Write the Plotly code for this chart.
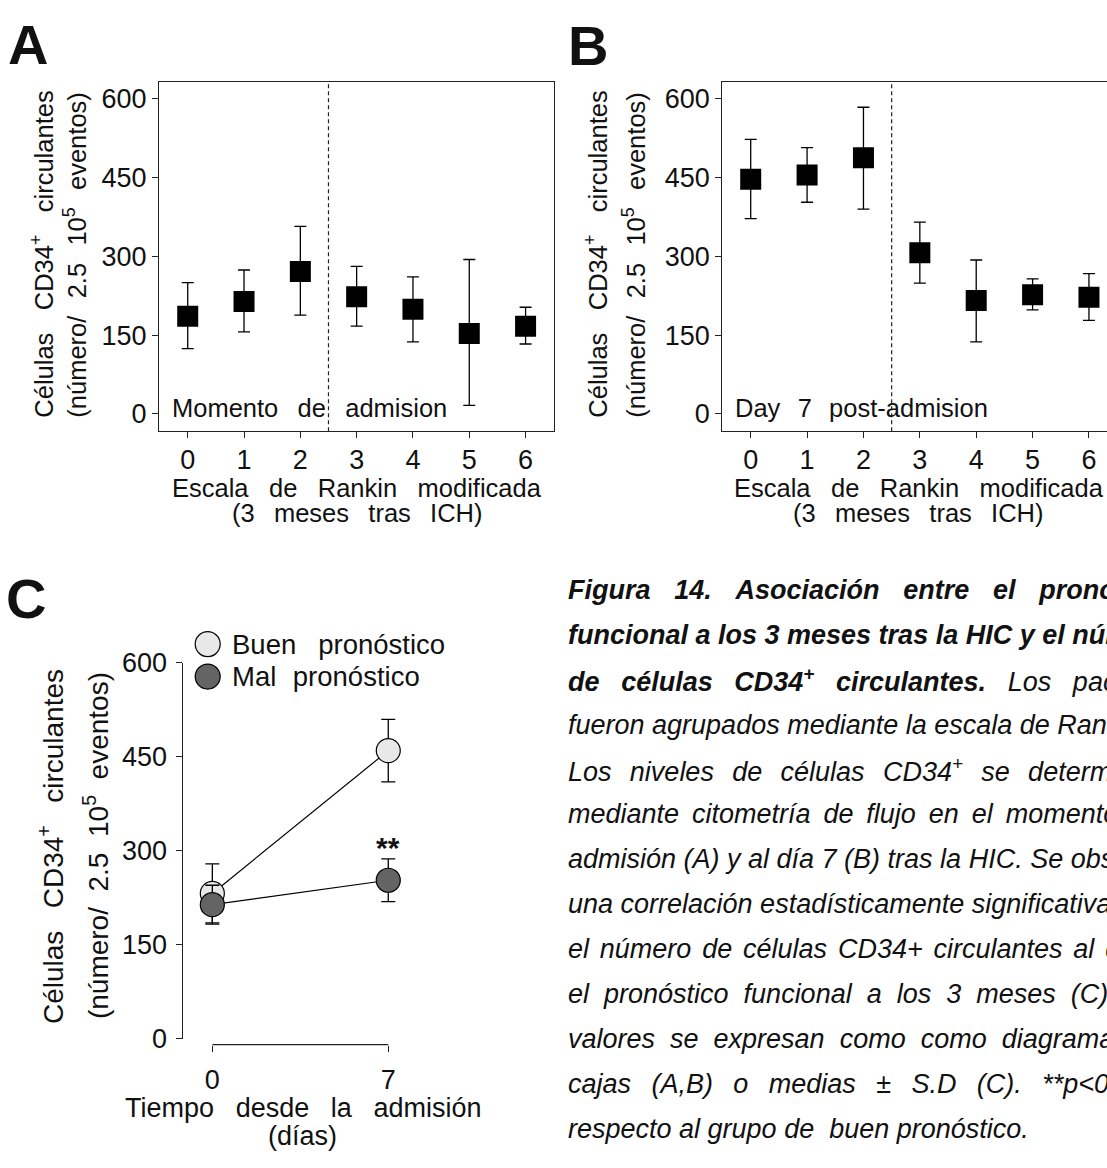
import plotly.graph_objects as go

# ---- data -------------------------------------------------------------
rankin = [0, 1, 2, 3, 4, 5, 6]
y_ticks = [0, 150, 300, 450, 600]

# Panel A: admission
a_center = [186, 214, 271, 223, 199, 153, 167]
a_upper = [250, 274, 357, 281, 261, 294, 203]
a_lower = [124, 156, 188, 167, 137, 16, 133]

# Panel B: day 7
b_center = [447, 455, 488, 307, 216, 227, 222]
b_upper = [523, 507, 584, 365, 293, 257, 267]
b_lower = [372, 403, 390, 249, 137, 198, 178]

# Panel C: mean +/- SD by outcome
days = [0, 7]
good_mean = [232, 460]
good_sd = [47, 50]
poor_mean = [214, 253]
poor_sd = [31, 34]

W, H = 1107, 1168
FONT = "Liberation Sans, Arial, sans-serif"
INK = "#111111"
LINE = "#222222"


def P(x):
    return x / W


def Q(y):
    return 1 - y / H


def gap(px, size):
    """Run of non-breaking / thin spaces approximating a word gap in px."""
    best = None
    for a in range(0, 8):
        for b in range(0, 6):
            if a + b == 0:
                continue
            w = a * 0.278 * size + b * 0.2 * size
            err = abs(w - px)
            if best is None or err < best[0] - 0.05:
                best = (err, a, b)
    return "\u00a0" * best[1] + "\u2009" * best[2]


def spaced(words, px, size):
    return gap(px, size).join(words)


fig = go.Figure()

# ---- panels A and B: squares with whiskers -----------------------------
for xa, ya, c, up, lo in [("x", "y", a_center, a_upper, a_lower),
                          ("x2", "y2", b_center, b_upper, b_lower)]:
    fig.add_trace(go.Scatter(
        x=rankin, y=c, mode="markers", xaxis=xa, yaxis=ya,
        marker=dict(symbol="square", size=21, color="black", line=dict(width=0)),
        error_y=dict(type="data", symmetric=False,
                     array=[u - v for u, v in zip(up, c)],
                     arrayminus=[v - l for v, l in zip(c, lo)],
                     color="black", thickness=1.3, width=6),
        hoverinfo="skip", showlegend=False))

# ---- panel C: two outcome groups --------------------------------------
for mean, sd, fill in [(good_mean, good_sd, "#e8e8e8"),
                       (poor_mean, poor_sd, "#646464")]:
    fig.add_trace(go.Scatter(
        x=days, y=mean, mode="lines+markers", xaxis="x3", yaxis="y3",
        line=dict(color="black", width=1.2),
        marker=dict(symbol="circle", size=24, color=fill,
                    line=dict(color="black", width=1.2)),
        error_y=dict(type="data", array=sd, color="black", thickness=1.3, width=7),
        hoverinfo="skip", showlegend=False))

axis_common = dict(ticks="outside", ticklen=6, tickwidth=1.3, tickcolor=LINE,
                   showgrid=False, zeroline=False,
                   tickfont=dict(size=27, color=INK, family=FONT),
                   showline=True, linecolor=LINE, linewidth=1.3)

box_y = [Q(427.3), Q(68.3)]
fig.update_layout(
    xaxis=dict(domain=[P(159), P(554.3)], range=[-0.51, 6.51], tickvals=rankin,
               mirror=True, anchor="y", ticklabelstandoff=-2, **axis_common),
    yaxis=dict(domain=box_y, range=[-33.4, 633], tickvals=y_ticks,
               mirror=True, anchor="x", **axis_common),
    xaxis2=dict(domain=[P(722.3), 1], range=[-0.504, 6.32], tickvals=rankin,
                mirror=True, anchor="y2", ticklabelstandoff=-2, **axis_common),
    yaxis2=dict(domain=box_y, range=[-33.4, 633], tickvals=y_ticks,
                mirror=False, anchor="x2", **axis_common),
    xaxis3=dict(domain=[P(187.2), P(413.4)], range=[-1, 8], tickvals=days,
                anchor="free", position=Q(1056.7), ticklabelstandoff=5,
                **{**axis_common, "showline": False}),
    yaxis3=dict(domain=[Q(1050.7), Q(665)], range=[0, 600], tickvals=y_ticks,
                anchor="free", position=P(181.7), ticklabelstandoff=3,
                **axis_common),
)

shapes = []
# dashed separators between mRS 0-2 and 3-6
for xr, yr in [("x", "y domain"), ("x2", "y2 domain")]:
    shapes.append(dict(type="line", xref=xr, yref=yr, x0=2.5, x1=2.5, y0=0, y1=1,
                       line=dict(color=LINE, width=1.2, dash="4px,3px")))
# panel C x-axis line spanning day 0 to day 7
shapes.append(dict(type="line", xref="x3", yref="paper", x0=days[0], x1=days[-1],
                   y0=Q(1056.7), y1=Q(1056.7), line=dict(color=LINE, width=1.3)))
# legend symbols for panel C
for yy, fill in [(645.7, "#e8e8e8"), (679, "#646464")]:
    shapes.append(dict(type="circle", xref="paper", yref="paper",
                       xsizemode="pixel", ysizemode="pixel",
                       xanchor=P(207.7), yanchor=Q(yy),
                       x0=-12.5, x1=12.5, y0=-12.5, y1=12.5,
                       fillcolor=fill, line=dict(color="black", width=1.2)))

ann = []


def text(x, y, s, size, xanchor="center", yanchor="middle", angle=0, color=INK):
    ann.append(dict(xref="paper", yref="paper", x=P(x), y=Q(y), text=s,
                    showarrow=False, xanchor=xanchor, yanchor=yanchor,
                    textangle=angle, font=dict(family=FONT, size=size, color=color)))


S = 25.5
# panel letters
text(28, 30, "<b>A</b>", 56)
text(587.5, 31, "<b>B</b>", 56)
text(26, 599, "<b>C</b>", 56)

ytitle1 = spaced(["Células", "CD34<sup>+</sup>", "circulantes"], 23, S)
ytitle2 = spaced(["(número/", "2.5", "10<sup>5</sup>", "eventos)"], 17, S)
xtitle1 = spaced(["Escala", "de", "Rankin", "modificada"], 20, S)
xtitle2 = spaced(["(3", "meses", "tras", "ICH)"], 19, S)

# panel A labels
text(42, 246, ytitle1, S, angle=-90)
text(75, 246, ytitle2, S, angle=-90)
text(170, 403, spaced(["Momento", "de", "admision"], 19, S), S, xanchor="left")
text(357, 485, xtitle1, S)
text(357, 511, xtitle2, S)

# panel B labels
text(596, 246, ytitle1, S, angle=-90)
text(634, 246, ytitle2, S, angle=-90)
text(733, 403, spaced(["Day", "7", "post-admision"], 17, S), S, xanchor="left")
text(918.5, 485, xtitle1, S)
text(918.5, 511, xtitle2, S)

# panel C labels
SC = 28
text(51, 854, spaced(["Células", "CD34<sup>+</sup>", "circulantes"], 22, SC), SC, angle=-90)
text(96, 853, spaced(["(número/", "2.5", "10<sup>5</sup>", "eventos)"], 16, SC), SC, angle=-90)
text(230, 645.7, spaced(["Buen", "pronóstico"], 22, 27.5), 27.5, xanchor="left")
text(230, 679, spaced(["Mal", "pronóstico"], 17, 27.5), 27.5, xanchor="left")
text(303, 1122, spaced(["Tiempo", "desde", "la", "admisión"], 21, 27), 27)
text(302.5, 1151, "(días)", 27)
ann.append(dict(xref="x3", yref="y3", x=7, y=305, text="<b>**</b>", showarrow=False,
                xanchor="center", yanchor="middle",
                font=dict(family=FONT, size=30, color=INK)))

# ---- figure caption (justified block, runs off the right edge) --------
CS = 27
X0 = 566
g = lambda px: gap(px, CS)
cap = [
    "<b>" + g(24).join(["Figura", "14.", "Asociación", "entre", "el", "pronóstico"]) + "</b>",
    "<b>" + g(7).join(["funcional", "a", "los", "3", "meses", "tras", "la", "HIC", "y", "el", "número"]) + "</b>",
    "<b>" + g(22).join(["de", "células", "CD34<sup>+</sup>", "circulantes."]) + "</b>"
    + g(22) + g(22).join(["Los", "pacientes"]),
    g(7).join(["fueron", "agrupados", "mediante", "la", "escala", "de", "Rankin."]),
    g(18).join(["Los", "niveles", "de", "células", "CD34<sup>+</sup>", "se", "determinaron"]),
    g(12).join(["mediante", "citometría", "de", "flujo", "en", "el", "momento", "de", "la"]),
    g(7).join(["admisión", "(A)", "y", "al", "día", "7", "(B)", "tras", "la", "HIC.", "Se", "observó"]),
    g(7).join(["una", "correlación", "estadísticamente", "significativa", "entre"]),
    g(9.5).join(["el", "número", "de", "células", "CD34+", "circulantes", "al", "día", "7", "y"]),
    g(15).join(["el", "pronóstico", "funcional", "a", "los", "3", "meses", "(C).", "Los"]),
    g(14.5).join(["valores", "se", "expresan", "como", "como", "diagramas", "de"]),
    g(20).join(["cajas", "(A,B)", "o", "medias", "±", "S.D", "(C).", "**p&lt;0.01"]),
    g(7).join(["respecto", "al", "grupo", "de" + g(7), "buen", "pronóstico."]),
]
for i, line in enumerate(cap):
    text(X0, 590 + 46.1 * i, "<i>" + line + "</i>", CS, xanchor="left")

fig.update_layout(
    width=W, height=H, margin=dict(l=0, r=0, t=0, b=0, pad=0),
    paper_bgcolor="white", plot_bgcolor="white", showlegend=False,
    font=dict(family=FONT, color=INK),
    shapes=shapes, annotations=ann,
)

fig.write_html("out.html", config={"displayModeBar": False},
               post_script="document.body.style.margin='0';"
                           "document.body.style.overflow='hidden';"
                           "document.documentElement.style.overflow='hidden';")
